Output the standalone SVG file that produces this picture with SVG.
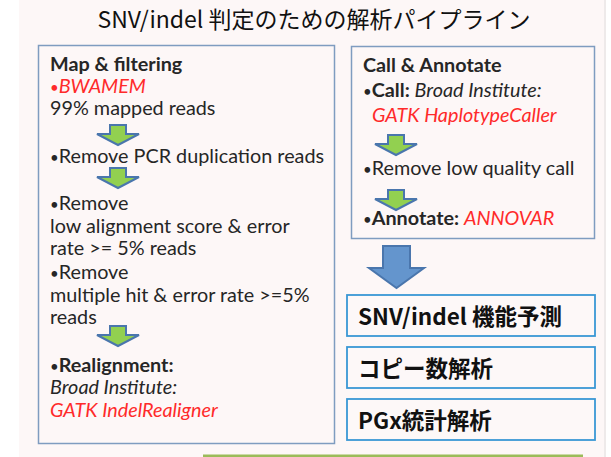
<svg xmlns="http://www.w3.org/2000/svg" width="611" height="457" viewBox="0 0 611 457">
<style>
.t{font-family:Lato,"Liberation Sans",sans-serif;font-size:19.8px;fill:#262626}
.b{font-weight:bold}
.i{font-style:italic}
.r{fill:#ff2a2a}
.bu{font-size:15px;font-weight:normal;font-style:normal}
.box{fill:none;stroke:#7f9cc0;stroke-width:1.5}
.obox{fill:#fdf8f8;stroke:#3a97d4;stroke-width:1.8}
.ot{font-family:"Noto Sans CJK JP",sans-serif;font-weight:bold;font-size:22.5px;fill:#111}
.sa{fill:#92d050;stroke:#4a76ad;stroke-width:2}
</style>
<defs>
<path id="sarrow" d="M-8,0 H8 V9 H21 L0,20 L-21,9 H-8 Z"/>
</defs>
<rect width="611" height="457" fill="#ffffff"/>
<rect x="19" y="0" width="585" height="457" fill="#fdf7f7"/>
<rect x="604" y="0" width="2" height="457" fill="#eeeaea"/>
<text x="314" y="28" text-anchor="middle" font-family="'Noto Sans CJK JP',sans-serif" font-size="23" fill="#111">SNV/indel 判定のための解析パイプライン</text>

<g id="map-filtering">
<rect class="box" x="38.5" y="45.5" width="296" height="398"/>
<text class="t b" x="50" y="71">Map &amp; filtering</text>
<text class="t r" x="50" y="93"><tspan class="bu">•</tspan><tspan class="i">BWAMEM</tspan></text>
<text class="t" x="50" y="115">99% mapped reads</text>
<use href="#sarrow" class="sa" x="118" y="125"/>
<text class="t" x="50" y="163"><tspan class="bu">•</tspan>Remove PCR duplication reads</text>
<use href="#sarrow" class="sa" x="118" y="168"/>
<text class="t" x="50" y="210"><tspan class="bu">•</tspan>Remove</text>
<text class="t" x="50" y="233">low alignment score &amp; error</text>
<text class="t" x="50" y="255">rate &gt;= 5% reads</text>
<text class="t" x="50" y="279"><tspan class="bu">•</tspan>Remove</text>
<text class="t" x="50" y="302">multiple hit &amp; error rate &gt;=5%</text>
<text class="t" x="50" y="324">reads</text>
<use href="#sarrow" class="sa" x="118" y="326"/>
<text class="t" x="50" y="372"><tspan class="bu">•</tspan><tspan class="b">Realignment:</tspan></text>
<text class="t i" x="50" y="394">Broad Institute:</text>
<text class="t i r" x="50" y="417">GATK IndelRealigner</text>
</g>

<g id="call-annotate">
<rect class="box" x="351.5" y="46.5" width="243" height="192"/>
<text class="t b" x="363" y="72">Call &amp; Annotate</text>
<text class="t" x="363" y="97"><tspan class="bu">•</tspan><tspan class="b">Call: </tspan><tspan class="i">Broad Institute:</tspan></text>
<text class="t i r" x="372" y="122">GATK HaplotypeCaller</text>
<use href="#sarrow" class="sa" x="396" y="135"/>
<text class="t" x="363" y="175"><tspan class="bu">•</tspan>Remove low quality call</text>
<use href="#sarrow" class="sa" x="396" y="190"/>
<text class="t" x="363" y="225"><tspan class="bu">•</tspan><tspan class="b">Annotate: </tspan><tspan class="i r">ANNOVAR</tspan></text>
</g>

<g id="connectors">
<path d="M383,246 H410 V268 H424 L396.5,288 L369,268 H383 Z" fill="#6495cd" stroke="#4a76ad" stroke-width="2"/>
</g>

<g id="snv-indel">
<rect class="obox" x="347" y="295" width="248" height="41"/>
<text class="ot" x="358" y="325">SNV/indel 機能予測</text>
</g>
<g id="copy-number">
<rect class="obox" x="347" y="347" width="248" height="41"/>
<text class="ot" x="358" y="377">コピー数解析</text>
</g>
<g id="pgx">
<rect class="obox" x="347" y="399" width="248" height="41"/>
<text class="ot" x="358" y="429">PGx統計解析</text>
</g>
<line x1="203" y1="456" x2="583" y2="456" stroke="#9bbb59" stroke-width="3"/>
</svg>
